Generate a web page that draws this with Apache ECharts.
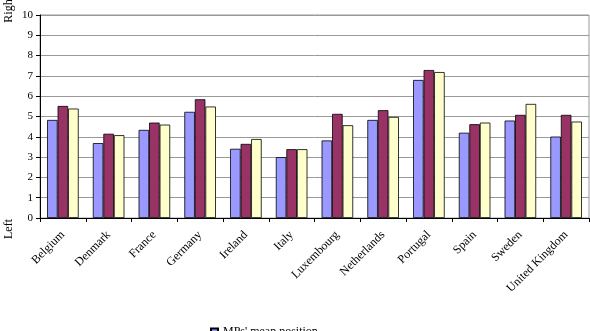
<!DOCTYPE html>
<html><head><meta charset="utf-8">
<script src="https://cdn.jsdelivr.net/npm/echarts@6/dist/echarts.min.js"></script>
<style>html,body{margin:0;padding:0;background:#fff}#c{width:590px;height:331px}</style>
</head><body><div id="c"></div>
<script>
const categories = ["Belgium","Denmark","France","Germany","Ireland","Italy","Luxembourg","Netherlands","Portugal","Spain","Sweden","United Kingdom"];
const seriesNames = ["MPs' mean position","Series 2","Series 3"];
const mpsMean = [4.83,3.69,4.34,5.23,3.41,3.00,3.82,4.83,6.80,4.20,4.80,4.01];
const series2 = [5.52,4.15,4.70,5.85,3.65,3.39,5.13,5.31,7.29,4.62,5.08,5.08];
const series3 = [5.39,4.08,4.60,5.49,3.89,3.39,4.57,4.98,7.19,4.70,5.62,4.75];
const yTicks = [0,10,1];
const colors = ['#9999FF','#993366','#FFFFCC'];
const font = '"Liberation Serif","Times New Roman",serif';
const chart = echarts.init(document.getElementById('c'));
const mk = (name, data, i) => ({
  name, type:'bar', data, barGap:'0%', barCategoryGap:'31%',
  itemStyle:{color:colors[i], borderColor:'#000', borderWidth:0.8},
  animation:false
});
chart.setOption({
  animation:false,
  textStyle:{fontFamily:font},
  grid:{left:40,right:1,top:15,bottom:113,show:true,borderColor:'#999',borderWidth:1,backgroundColor:'transparent'},
  legend:{data:[seriesNames[0]],left:205,top:321,itemWidth:7,itemHeight:7,itemGap:4,icon:'rect',
    textStyle:{fontFamily:font,fontSize:12,color:'#000'}},
  xAxis:{type:'category',data:categories,
    axisLine:{lineStyle:{color:'#000',width:1}},
    axisTick:{show:true,length:4,lineStyle:{color:'#000'}},
    axisLabel:{rotate:45,fontFamily:font,fontSize:12,color:'#000',margin:15}},
  yAxis:{type:'value',min:yTicks[0],max:yTicks[1],interval:yTicks[2],
    axisLine:{show:true,lineStyle:{color:'#000'}},
    axisTick:{show:true,length:4,lineStyle:{color:'#000'}},
    splitLine:{lineStyle:{color:'#999',width:1}},
    axisLabel:{fontFamily:font,fontSize:11,color:'#000',margin:7}},
  graphic:[
    {type:'text',left:3,top:-4,rotation:Math.PI/2,style:{text:'Right',font:'12px '+font,fill:'#000'}},
    {type:'text',left:3,top:219,rotation:Math.PI/2,style:{text:'Left',font:'12px '+font,fill:'#000'}}
  ],
  series:[mk(seriesNames[0],mpsMean,0),mk(seriesNames[1],series2,1),mk(seriesNames[2],series3,2)]
});
</script></body></html>
